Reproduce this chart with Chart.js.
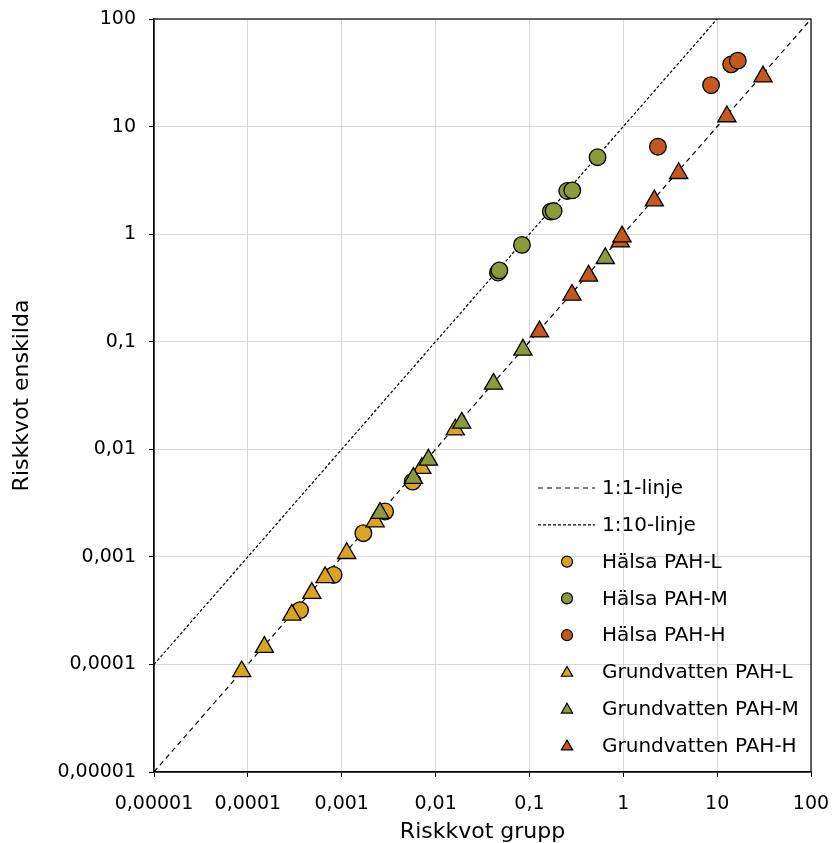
<!DOCTYPE html>
<html><head><meta charset="utf-8">
<script src="https://cdn.jsdelivr.net/npm/chart.js@4.4.1/dist/chart.umd.min.js"></script>
<style>html,body{margin:0;padding:0;background:#fff;}canvas{display:block;}</style>
</head><body>
<canvas id="c" width="832" height="843"></canvas>
<script>
// ---- data ----
const decadeTicks = [1e-5, 1e-4, 1e-3, 1e-2, 1e-1, 1, 10, 100];
const tickLabels = ['0,00001', '0,0001', '0,001', '0,01', '0,1', '1', '10', '100'];

const line11X = [1e-5, 100];
const line11Y = [1e-5, 100];
const line110X = [1e-5, 10];
const line110Y = [1e-4, 100];

const halsaL_X = [0.00036, 0.00082, 0.0017, 0.0029, 0.0057];
const halsaL_Y = [0.00032, 0.00068, 0.00166, 0.00264, 0.0050];

const halsaM_X = [0.0462, 0.0478, 0.0832, 0.169, 0.181, 0.253, 0.286, 0.532];
const halsaM_Y = [0.44, 0.46, 0.794, 1.62, 1.64, 2.52, 2.55, 5.19];

const halsaH_X = [2.34, 8.61, 14.1, 16.6];
const halsaH_Y = [6.5, 24.3, 37.9, 41.0];

const gvL_X = [0.000086, 0.00015, 0.000294, 0.00048, 0.000665, 0.00113, 0.00227, 0.00714, 0.0162];
const gvL_Y = [0.000086, 0.000145, 0.000289, 0.00046, 0.000645, 0.00108, 0.00213, 0.00667, 0.0152];

const gvM_X = [0.00256, 0.0058, 0.00839, 0.019, 0.0414, 0.0853, 0.643];
const gvM_Y = [0.00255, 0.00539, 0.00797, 0.0176, 0.0405, 0.0839, 0.597];

const gvH_X = [0.128, 0.284, 0.427, 0.929, 0.969, 2.14, 3.89, 12.7, 30.8];
const gvH_Y = [0.124, 0.272, 0.409, 0.851, 0.947, 2.05, 3.68, 12.4, 29.1];

// ---- styles ----
const YELLOW = '#DAA423', GREEN = '#8B9A3B', ORANGE = '#C4591F';
const FONT = "'DejaVu Sans', Verdana, sans-serif";

function pts(xs, ys) { return xs.map((x, i) => ({ x: x, y: ys[i] })); }
function markerDs(label, xs, ys, color, style, order) {
  const r = style === 'circle' ? 8.3 : 10.5;
  return {
    label, data: pts(xs, ys), backgroundColor: color, borderColor: '#000',
    borderWidth: 1.3, pointStyle: style, pointRadius: r,
    pointHoverRadius: r, showLine: false, order
  };
}
function lineDs(label, xs, ys, dash, order) {
  return {
    label, data: pts(xs, ys), showLine: true, borderColor: '#000', borderWidth: 1.2,
    borderDash: dash, pointRadius: 0, pointHoverRadius: 0, fill: false, order,
    backgroundColor: '#000'
  };
}

const datasets = [
  lineDs('1:1-linje', line11X, line11Y, [5, 4], 20),
  lineDs('1:10-linje', line110X, line110Y, [3, 2], 21),
  markerDs('Hälsa PAH-L', halsaL_X, halsaL_Y, YELLOW, 'circle', 6),
  markerDs('Hälsa PAH-M', halsaM_X, halsaM_Y, GREEN, 'circle', 5),
  markerDs('Hälsa PAH-H', halsaH_X, halsaH_Y, ORANGE, 'circle', 4),
  markerDs('Grundvatten PAH-L', gvL_X, gvL_Y, YELLOW, 'triangle', 3),
  markerDs('Grundvatten PAH-M', gvM_X, gvM_Y, GREEN, 'triangle', 2),
  markerDs('Grundvatten PAH-H', gvH_X, gvH_Y, ORANGE, 'triangle', 1)
];

const frame = {
  id: 'frame',
  beforeDatasetsDraw(chart) {
    const { ctx, chartArea: a } = chart;
    ctx.save();
    ctx.strokeStyle = '#000'; ctx.lineWidth = 1.2;
    ctx.strokeRect(a.left, a.top, a.right - a.left, a.bottom - a.top);
    ctx.restore();
  }
};

const customLegend = {
  id: 'customLegend',
  afterDraw(chart) {
    const { ctx, chartArea: a } = chart;
    const x0 = a.right - 273, textX = a.right - 209, markX = a.right - 244;
    const y0 = a.top + 469, step = 36.8;
    ctx.save();
    ctx.font = '20px ' + FONT;
    ctx.fillStyle = '#000';
    ctx.textBaseline = 'middle';
    chart.data.datasets.forEach((d, i) => {
      const y = y0 + i * step;
      if (d.showLine) {
        ctx.save();
        ctx.strokeStyle = '#000'; ctx.lineWidth = 1.2;
        ctx.setLineDash(d.borderDash);
        ctx.beginPath(); ctx.moveTo(x0, y); ctx.lineTo(x0 + 57, y); ctx.stroke();
        ctx.restore();
      } else {
        ctx.save();
        ctx.fillStyle = d.backgroundColor; ctx.strokeStyle = '#000'; ctx.lineWidth = 1.2;
        Chart.helpers.drawPoint(ctx, {
          pointStyle: d.pointStyle, radius: d.pointStyle === 'circle' ? 5.5 : 6.5,
          rotation: 0, borderWidth: 1.2
        }, markX, y + (d.pointStyle === 'circle' ? 0 : 1));
        ctx.restore();
      }
      ctx.fillStyle = '#000';
      ctx.fillText(d.label, textX, y + 1);
    });
    ctx.restore();
  }
};

const axisCommon = {
  type: 'logarithmic', min: 1e-5, max: 100,
  afterBuildTicks: s => { s.ticks = decadeTicks.map(v => ({ value: v })); },
  grid: { color: '#d9d9d9', lineWidth: 1, tickLength: 5, tickColor: '#000', drawTicks: true },
  border: { color: '#000', width: 1.2 }
};

new Chart(document.getElementById('c'), {
  type: 'scatter',
  data: { datasets },
  options: {
    responsive: false, animation: false, devicePixelRatio: 1,
    layout: { padding: { left: 0, right: 21, top: 19, bottom: 0 } },
    plugins: { legend: { display: false }, tooltip: { enabled: false } },
    scales: {
      x: Object.assign({}, axisCommon, {
        position: 'bottom',
        ticks: { callback: (v, i) => tickLabels[i], font: { family: FONT, size: 19 }, color: '#000',
                 padding: 16, maxRotation: 0, autoSkip: false },
        title: { display: true, text: 'Riskkvot grupp', color: '#000',
                 font: { family: FONT, size: 22 }, padding: { top: 0, bottom: -2 } },
        afterFit: s => { s.height = 71; s.paddingLeft = 0; s.paddingRight = 0; }
      }),
      y: Object.assign({}, axisCommon, {
        position: 'left',
        ticks: { callback: (v, i) => tickLabels[i], font: { family: FONT, size: 19 }, color: '#000',
                 padding: 13, autoSkip: false },
        title: { display: true, text: 'Riskkvot enskilda', color: '#000',
                 font: { family: FONT, size: 22 }, padding: { top: 9, bottom: 0 } },
        afterFit: s => { s.width = 154; s.paddingTop = 0; s.paddingBottom = 0; }
      })
    }
  },
  plugins: [frame, customLegend]
});
</script>
</body></html>
